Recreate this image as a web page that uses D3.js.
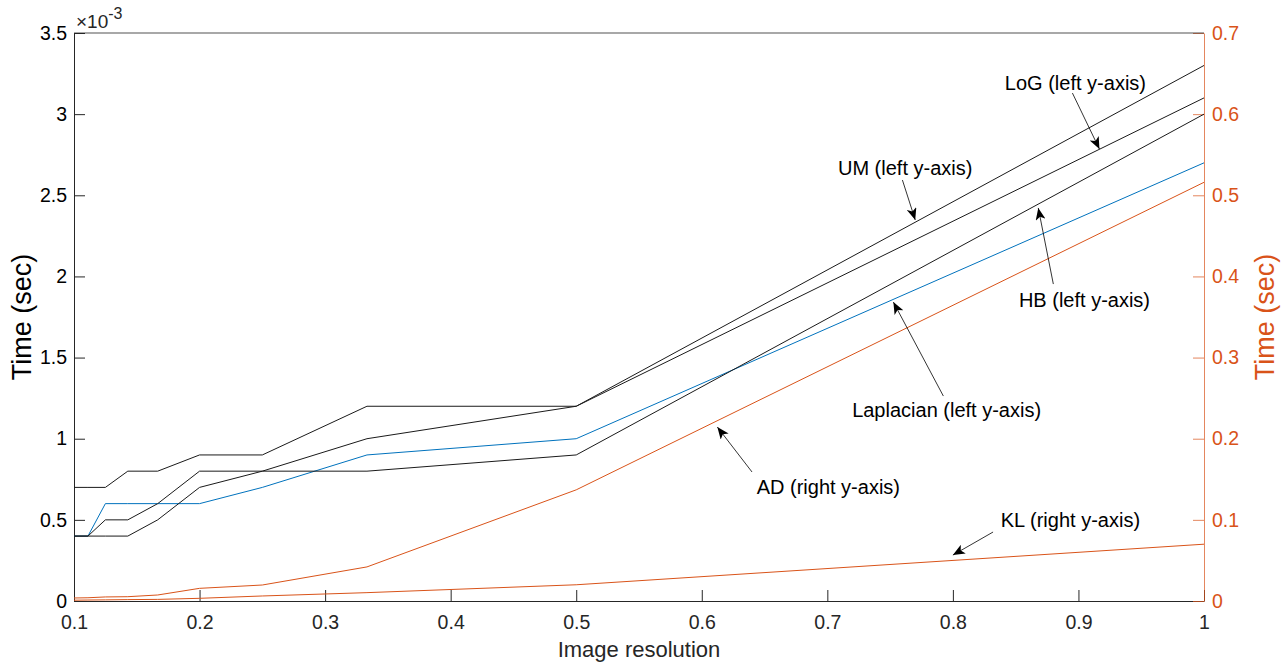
<!DOCTYPE html>
<html>
<head>
<meta charset="utf-8">
<script src="https://cdn.jsdelivr.net/npm/d3@7"></script>
<style>
  body { margin: 0; background: #fff; }
  svg text { font-family: "Liberation Sans", Arial, Helvetica, sans-serif; }
</style>
</head>
<body>
<svg width="1284" height="662"></svg>
<script>
// resolution steps 1/n, n = 10..1
var resolution = [0.1, 1/9, 1/8, 1/7, 1/6, 0.2, 0.25, 1/3, 0.5, 1];

// left axis series, units of 1e-3 sec
var umTime        = [0.7, 0.7, 0.7, 0.8, 0.8, 0.9, 0.9, 1.2, 1.2, 3.3];
var logTime       = [0.4, 0.4, 0.4, 0.4, 0.5, 0.7, 0.8, 1.0, 1.2, 3.1];
var hbTime        = [0.4, 0.4, 0.5, 0.5, 0.6, 0.8, 0.8, 0.8, 0.9, 3.0];
var laplacianTime = [0.4, 0.4, 0.6, 0.6, 0.6, 0.6, 0.7, 0.9, 1.0, 2.7];

// right axis series, sec
var adTime = [0.0037, 0.004, 0.005, 0.0053, 0.0074, 0.0156, 0.0197, 0.042, 0.137, 0.516];
var klTime = [0.001, 0.0012, 0.0014, 0.0017, 0.002, 0.0033, 0.0062, 0.0103, 0.020, 0.070];

var xTicks = [0.1, 0.2, 0.3, 0.4, 0.5, 0.6, 0.7, 0.8, 0.9, 1];
var leftTicks = [0, 0.5, 1, 1.5, 2, 2.5, 3, 3.5];
var rightTicks = [0, 0.1, 0.2, 0.3, 0.4, 0.5, 0.6, 0.7];

// annotation text + arrow, all in data units of the left axis
var notes = [
  {text: "UM (left y-axis)",        tx: 0.762, ty: 2.668, x1: 0.7598, y1: 2.594, x2: 0.770, y2: 2.348},
  {text: "LoG (left y-axis)",       tx: 0.8976, ty: 3.192, x1: 0.8952, y1: 3.130, x2: 0.9167, y2: 2.785},
  {text: "HB (left y-axis)",        tx: 0.9048, ty: 1.855, x1: 0.880, y1: 1.953, x2: 0.868, y2: 2.422},
  {text: "Laplacian (left y-axis)", tx: 0.795, ty: 1.177, x1: 0.7924, y1: 1.263, x2: 0.7526, y2: 1.842},
  {text: "AD (right y-axis)",       tx: 0.7008, ty: 0.702, x1: 0.640, y1: 0.795, x2: 0.6124, y2: 1.072},
  {text: "KL (right y-axis)",       tx: 0.8936, ty: 0.499, x1: 0.832, y1: 0.425, x2: 0.800, y2: 0.283}
];

var svg = d3.select("svg");
var plotL = 74, plotR = 1204, plotT = 33, plotB = 601;
var axisGray = "#262626", orange = "#D95319", blue = "#0072BD";

var x = d3.scaleLinear().domain([0.1, 1]).range([plotL, plotR]);
var yL = d3.scaleLinear().domain([0, 3.5]).range([plotB, plotT]);
var yR = d3.scaleLinear().domain([0, 0.7]).range([plotB, plotT]);

// axes (ticks inside, like matlab)
svg.append("g")
    .attr("transform", "translate(0," + plotB + ")")
    .call(d3.axisBottom(x).tickValues(xTicks).tickSizeInner(-11).tickSizeOuter(0).tickPadding(14)
      .tickFormat(d => d === 1 ? "1" : d3.format(".1f")(d)))
    .call(g => g.selectAll("line,path").attr("stroke", axisGray))
    .call(g => g.selectAll("text").attr("fill", axisGray).attr("font-size", 19.5).attr("dy", "0.71em"));

svg.append("g")
    .attr("transform", "translate(" + plotL + ",0)")
    .call(d3.axisLeft(yL).tickValues(leftTicks).tickSizeInner(-11).tickSizeOuter(0).tickPadding(7)
      .tickFormat(d => d3.format("")(d)))
    .call(g => g.selectAll("line,path").attr("stroke", axisGray))
    .call(g => g.selectAll("text").attr("fill", "#000").attr("font-size", 19.5));

svg.append("g")
    .attr("transform", "translate(" + plotR + ",0)")
    .call(d3.axisRight(yR).tickValues(rightTicks).tickSizeInner(-11).tickSizeOuter(0).tickPadding(8)
      .tickFormat(d => d3.format("")(d)))
    .call(g => g.selectAll("line,path").attr("stroke", orange).attr("stroke-opacity", 0.7))
    .call(g => g.selectAll("text").attr("fill", orange).attr("font-size", 19.5));

// top border
svg.append("line")
    .attr("x1", plotL).attr("x2", plotR).attr("y1", plotT).attr("y2", plotT)
    .attr("stroke", axisGray).attr("stroke-opacity", 0.8);

// exponent
var expo = svg.append("text").attr("x", plotL + 2).attr("y", 28).attr("font-size", 19).attr("fill", axisGray);
expo.append("tspan").text("\u00d710");
expo.append("tspan").attr("dy", -9).attr("font-size", 16).text("-3");

// axis titles
svg.append("text")
    .attr("transform", "translate(31," + (plotT + plotB) / 2 + ") rotate(-90)")
    .attr("text-anchor", "middle").attr("font-size", 27).attr("fill", "#000")
    .text("Time (sec)");
svg.append("text")
    .attr("transform", "translate(1274," + (plotT + plotB) / 2 + ") rotate(-90)")
    .attr("text-anchor", "middle").attr("font-size", 27).attr("fill", orange)
    .text("Time (sec)");
svg.append("text")
    .attr("x", (plotL + plotR) / 2).attr("y", 657)
    .attr("text-anchor", "middle").attr("font-size", 22).attr("fill", axisGray)
    .text("Image resolution");

// lines
var lineL = d3.line().x((d, i) => x(resolution[i])).y(d => yL(d));
var lineR = d3.line().x((d, i) => x(resolution[i])).y(d => yR(d));

var plot = svg.append("g").attr("fill", "none").attr("stroke-width", 1);
plot.append("path").attr("d", lineR(klTime)).attr("stroke", orange);
plot.append("path").attr("d", lineR(adTime)).attr("stroke", orange);
plot.append("path").attr("d", lineL(laplacianTime)).attr("stroke", blue);
[umTime, logTime, hbTime].forEach(function(s) {
  plot.append("path").attr("d", lineL(s)).attr("stroke", "#1a1a1a");
});

// annotations
var defs = svg.append("defs");
defs.append("marker")
    .attr("id", "head").attr("viewBox", "0 0 12 10").attr("refX", 12).attr("refY", 5)
    .attr("markerWidth", 12).attr("markerHeight", 10).attr("markerUnits", "userSpaceOnUse")
    .attr("orient", "auto")
  .append("path").attr("d", "M0,0 L12,5 L0,10 L3,5 Z").attr("fill", "#000");

var ann = svg.append("g");
notes.forEach(function(n) {
  ann.append("line")
      .attr("x1", x(n.x1)).attr("y1", yL(n.y1))
      .attr("x2", x(n.x2)).attr("y2", yL(n.y2))
      .attr("stroke", "#000").attr("stroke-width", 0.8)
      .attr("marker-end", "url(#head)");
  ann.append("text")
      .attr("x", x(n.tx)).attr("y", yL(n.ty)).attr("dy", "0.35em")
      .attr("text-anchor", "middle").attr("font-size", 20).attr("fill", "#000")
      .text(n.text);
});
</script>
</body>
</html>
